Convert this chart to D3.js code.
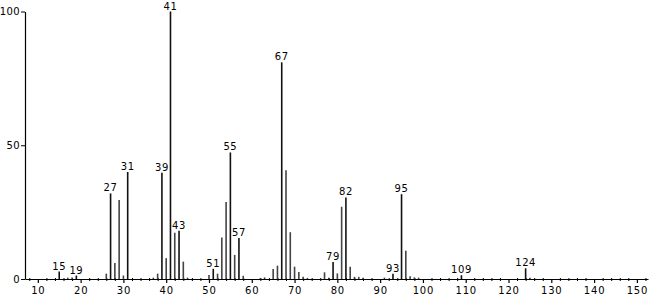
<!DOCTYPE html>
<html>
<head>
<meta charset="utf-8">
<script src="https://cdn.jsdelivr.net/npm/d3@7/dist/d3.min.js"></script>
<style>
  body { margin: 0; background: #fff; }
  svg { display: block; font-family: "DejaVu Sans", sans-serif; }
</style>
</head>
<body>
<svg id="chart"></svg>
<script>
// m/z values and relative intensities
const masses = [15, 17, 18, 19, 26, 27, 28, 29, 30, 31, 37, 38, 39, 40, 41, 42, 43, 44, 45,
  50, 51, 52, 53, 54, 55, 56, 57, 58, 62, 63, 65, 66, 67, 68, 69, 70, 71, 72, 73,
  77, 78, 79, 80, 81, 82, 83, 84, 85, 86, 91, 93, 95, 96, 97, 98, 99, 109, 124, 125];
const intensities = [2.8, 0.5, 0.6, 1.3, 2, 32, 6, 29.5, 1.3, 40, 0.5, 2, 39.7, 7.8, 100, 17.3, 18, 6.5, 0.5,
  1.5, 3.8, 2, 15.5, 28.8, 47.3, 9, 15.3, 1.2, 0.4, 0.6, 3.7, 5, 81, 40.7, 17.5, 4.6, 2.6, 0.8, 0.4,
  2.5, 0.5, 6.4, 2.1, 27, 30.5, 4.6, 0.8, 0.8, 0.5, 0.5, 2, 31.7, 10.6, 1, 0.6, 0.5, 1.4, 4, 0.5];
const labeled = [15, 19, 27, 31, 39, 41, 43, 51, 55, 57, 67, 79, 82, 93, 95, 109, 124];
const xTicks = [10, 20, 30, 40, 50, 60, 70, 80, 90, 100, 110, 120, 130, 140, 150];
const yTicks = [0, 50, 100];

const width = 650, height = 296;
const svg = d3.select("#chart").attr("width", width).attr("height", height);

const x = d3.scaleLinear().domain([7, 152.6]).range([25, 648]);
const y = d3.scaleLinear().domain([0, 100]).range([279, 11.5]);

const peaks = masses.map((m, i) => ({ m, v: intensities[i], lab: labeled.includes(m) }));

// minor ticks every 2 units
const minor = d3.range(8, 153, 2).filter(d => d % 10 !== 0);
svg.append("g")
  .attr("transform", `translate(0,${y(0)})`)
  .call(d3.axisBottom(x).tickValues(minor).tickSize(2).tickFormat(""))
  .call(g => g.select(".domain").remove())
  .selectAll("line").attr("stroke", "#000").attr("y1", -1).attr("y2", 2);

const xAxis = svg.append("g")
  .attr("transform", `translate(0,${y(0)})`)
  .call(d3.axisBottom(x).tickValues(xTicks).tickSize(4).tickSizeOuter(0).tickPadding(4));
xAxis.select(".domain").attr("stroke", "#000").attr("stroke-width", 1.2);
xAxis.selectAll("line").attr("stroke-width", 1.2);
xAxis.selectAll("text").attr("font-size", 10).attr("letter-spacing", 0.8).attr("font-family", "DejaVu Sans");

const yAxis = svg.append("g")
  .attr("transform", `translate(${x(7)},0)`)
  .call(d3.axisLeft(y).tickValues(yTicks).tickSize(4).tickSizeOuter(0).tickPadding(1));
yAxis.select(".domain").attr("stroke-width", 1.2);
yAxis.selectAll("text").attr("font-size", 10).attr("letter-spacing", 0.4).attr("font-family", "DejaVu Sans");

svg.selectAll("line.peak")
  .data(peaks)
  .enter()
  .append("line")
  .attr("class", "peak")
  .attr("x1", d => x(d.m))
  .attr("x2", d => x(d.m))
  .attr("y1", y(0))
  .attr("y2", d => y(d.v))
  .attr("stroke", d => d.lab ? "#111" : "#444")
  .attr("stroke-width", 1.6);

svg.selectAll("text.peak")
  .data(peaks.filter(d => d.lab))
  .enter()
  .append("text")
  .attr("class", "peak")
  .attr("x", d => x(d.m))
  .attr("y", d => y(d.v) - 2)
  .attr("text-anchor", "middle")
  .attr("font-size", 10)
  .attr("letter-spacing", 0.6)
  .text(d => d.m);
</script>
</body>
</html>
